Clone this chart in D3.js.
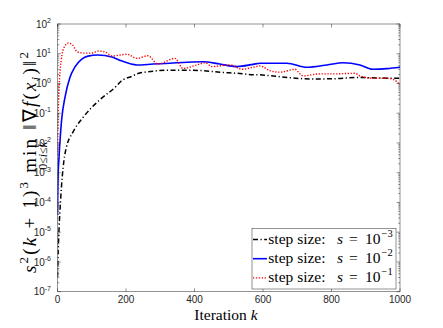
<!DOCTYPE html>
<html>
<head>
<meta charset="utf-8">
<script src="https://cdn.jsdelivr.net/npm/d3@7"></script>
<style>
html,body{margin:0;padding:0;background:#fff;}
svg{display:block;}
</style>
</head>
<body>
<svg id="chart" width="443" height="328"></svg>
<script>
// ---------- data ----------
const xTicks = [0, 200, 400, 600, 800, 1000];
const yTickExps = [-7, -6, -5, -4, -3, -2, -1, 0, 1, 2];

const seriesNames = ["-3", "-2", "-1"];

// s = 1e-3 (black dash-dot)
const blackK = [0, 2, 4.4, 9, 19, 26, 44, 73, 123, 172, 184, 219, 232, 280, 330, 378, 425, 474, 524, 571, 591, 670, 737, 804, 883, 933, 1000];
const blackV = [3.1e-7, 2.5e-6, 1.2e-5, 1.2e-4, 2.7e-3, 7.2e-3, 0.022, 0.069, 0.28, 0.82, 1.15, 1.78, 2.1, 2.6, 2.8, 2.8, 2.7, 2.4, 2.2, 1.98, 1.95, 1.6, 1.42, 1.44, 1.6, 1.53, 1.5];

// s = 1e-2 (blue solid)
const blueK = [0, 1, 2, 4, 12, 22, 36, 51, 71, 89, 118, 159, 184, 232, 279, 328, 378, 425, 474, 524, 571, 591, 670, 728, 787, 834, 883, 921, 962, 1000];
const blueV = [3.8e-5, 3e-4, 1e-3, 2.7e-3, 0.059, 0.35, 1.55, 3.6, 6.6, 8.3, 9.1, 7.8, 5.9, 4.2, 4.5, 4.8, 5.2, 5.4, 4.5, 3.7, 4.4, 4.8, 4.8, 3.5, 4.2, 5.0, 4.2, 3.0, 3.15, 3.5];

// s = 1e-1 (red dotted)
const redK = [0, 1, 2, 4, 6, 11, 20, 32, 44, 58, 79, 99, 118, 138, 161, 184, 203, 232, 264, 293, 343, 366, 407, 431, 451, 504, 539, 571, 591, 620, 650, 694, 702, 717, 766, 804, 869, 883, 921, 962, 980, 991, 1000];
const redV = [4e-3, 0.03, 0.107, 0.5, 1.5, 6.2, 17, 23, 19.6, 11.5, 10.5, 10.5, 12.3, 11.5, 8.4, 9.1, 9.6, 7.0, 8.6, 4.5, 7.0, 3.2, 4.2, 5.0, 3.7, 4.2, 3.0, 3.5, 3.9, 2.7, 2.4, 3.0, 2.5, 1.8, 2.1, 2.1, 2.2, 1.8, 1.5, 1.5, 1.38, 1.15, 0.9];

// ---------- layout ----------
const svg = d3.select("#chart");
const L = 57.5, R = 400, T = 24, B = 291.7;
const axisColor = "#262626";
const x = d3.scaleLinear().domain([0, 1000]).range([L, R]);
const y = d3.scaleLog().domain([1e-7, 1e2]).range([B, T]);

svg.append("rect").attr("x", L).attr("y", T).attr("width", R - L).attr("height", B - T).attr("fill", "#fff");

// ---------- series ----------
const series = [
  {k: blackK, v: blackV, color: "#000000", dash: "5,2.5,1.2,2.5", width: 1.5},
  {k: blueK,  v: blueV,  color: "#0000ff", dash: null, width: 1.6},
  {k: redK,   v: redV,   color: "#ff0000", dash: "1.3,1.6", width: 1.4}
];
const line = d3.line().x(d => x(d[0])).y(d => y(d[1])).curve(d3.curveMonotoneX);
svg.append("clipPath").attr("id", "clip").append("rect")
  .attr("x", L).attr("y", T).attr("width", R - L).attr("height", B - T);
const gLines = svg.append("g").attr("clip-path", "url(#clip)");
series.forEach(s => {
  const pts = s.k.map((kk, i) => [kk, s.v[i]]);
  const p = gLines.append("path").attr("d", line(pts))
    .attr("fill", "none").attr("stroke", s.color).attr("stroke-width", s.width);
  if (s.dash) p.attr("stroke-dasharray", s.dash);
});

// ---------- axes ----------
const gAx = svg.append("g");
gAx.append("rect").attr("x", L).attr("y", T).attr("width", R - L).attr("height", B - T)
  .attr("fill", "none").attr("stroke", axisColor).attr("stroke-width", 0.5);

const majorLen = 3.4, minorLen = 1.8;
const sans = "Liberation Sans, Arial, sans-serif";
xTicks.forEach(t => {
  const xx = x(t);
  gAx.append("line").attr("x1", xx).attr("x2", xx).attr("y1", B).attr("y2", B - majorLen)
    .attr("stroke", axisColor).attr("stroke-width", 0.5);
  gAx.append("line").attr("x1", xx).attr("x2", xx).attr("y1", T).attr("y2", T + majorLen)
    .attr("stroke", axisColor).attr("stroke-width", 0.5);
  gAx.append("text").attr("x", xx).attr("y", B + 11.6).attr("text-anchor", "middle")
    .attr("font-family", sans).attr("font-size", 10)
    .attr("fill", axisColor).text(t);
});
yTickExps.forEach(e => {
  const yy = y(Math.pow(10, e));
  [[L, 1], [R, -1]].forEach(([xx, dir]) => {
    gAx.append("line").attr("x1", xx).attr("x2", xx + dir * majorLen).attr("y1", yy).attr("y2", yy)
      .attr("stroke", axisColor).attr("stroke-width", 0.5);
  });
  if (e < 2) {
    for (let m = 2; m <= 9; m++) {
      const ym = y(m * Math.pow(10, e));
      [[L, 1], [R, -1]].forEach(([xx, dir]) => {
        gAx.append("line").attr("x1", xx).attr("x2", xx + dir * minorLen).attr("y1", ym).attr("y2", ym)
          .attr("stroke", axisColor).attr("stroke-width", 0.5);
      });
    }
  }
  const tx = gAx.append("text").attr("x", 51).attr("y", yy + 3.6).attr("text-anchor", "end")
    .attr("font-family", sans).attr("font-size", 10)
    .attr("fill", axisColor);
  tx.append("tspan").text("10");
  tx.append("tspan").attr("dy", -4.5).attr("font-size", 7).text(String(e));
});

// ---------- x label ----------
const serif = "Liberation Serif, Times New Roman, serif";
const xl = svg.append("text").attr("x", 226).attr("y", 319.5).attr("text-anchor", "middle")
  .attr("font-family", serif).attr("font-size", 15.5).attr("fill", "#000");
xl.append("tspan").text("Iteration ");
xl.append("tspan").attr("font-style", "italic").text("k");

// ---------- y label (rotated math) ----------
const labelSpan = 221;
const gy = svg.append("g").attr("transform", "translate(36,162.5) rotate(-90)");
const fs = 19, fsS = 13;
const yl = gy.append("text").attr("x", -labelSpan / 2).attr("y", 0)
  .attr("font-family", serif).attr("font-size", fs).attr("fill", "#000")
  .attr("xml:space", "preserve").style("white-space", "pre");
const parts = [
  {t: "s", it: true},
  {t: "2", size: fsS, dy: -8},
  {t: "(", dy: 8},
  {t: "k", it: true},
  {t: " + 1)"},
  {t: "3", size: fsS, dy: -8},
  {t: " min ", dy: 8},
  {t: "\u2016\u2207"},
  {t: "f", it: true},
  {t: "("},
  {t: "x", it: true},
  {t: "i", it: true, size: fsS, dy: 4},
  {t: ")\u2016", dy: -4},
  {t: "2", size: fsS, dy: -8}
];
let minIndex = 0, counting = true;
parts.forEach(p => {
  const ts = yl.append("tspan").text(p.t);
  if (p.it) ts.attr("font-style", "italic");
  if (p.size) ts.attr("font-size", p.size);
  if (p.dy) ts.attr("dy", p.dy);
  if (p.t === " min ") { minIndex += 1; counting = false; }
  if (counting) minIndex += p.t.length;
});
const node = yl.node();
if (node.getComputedTextLength() < labelSpan) {
  yl.attr("textLength", labelSpan).attr("lengthAdjust", "spacing");
}
// subscript centred under "min"
const mStart = node.getStartPositionOfChar(minIndex).x;
const nEnd = node.getEndPositionOfChar(minIndex + 2).x;
const subT = gy.append("text").attr("x", (mStart + nEnd) / 2).attr("y", 11).attr("text-anchor", "middle")
  .attr("font-family", serif).attr("font-size", 12).attr("fill", "#000");
subT.append("tspan").text("0\u2264");
subT.append("tspan").attr("font-style", "italic").text("i");
subT.append("tspan").text("\u2264");
subT.append("tspan").attr("font-style", "italic").text("k");

// ---------- legend ----------
const lgX = 252, lgY = 228.5, lgW = 144, lgH = 60.5;
const gl = svg.append("g");
gl.append("rect").attr("x", lgX).attr("y", lgY).attr("width", lgW).attr("height", lgH)
  .attr("fill", "#fff").attr("stroke", axisColor).attr("stroke-width", 0.5);
series.forEach((s, i) => {
  const ry = 239.5 + i * 19.2;
  const ln = gl.append("line").attr("x1", lgX + 1).attr("x2", lgX + 15).attr("y1", ry).attr("y2", ry)
    .attr("stroke", s.color).attr("stroke-width", s.width);
  if (s.dash) ln.attr("stroke-dasharray", s.dash);
  const by = ry + 4.2;
  gl.append("text").attr("x", 268.3).attr("y", by).attr("font-family", serif).attr("font-size", 15.5)
    .text("step size:");
  gl.append("text").attr("x", 337).attr("y", by).attr("font-family", serif).attr("font-size", 15.5)
    .attr("font-style", "italic").text("s");
  gl.append("text").attr("x", 349).attr("y", by).attr("font-family", serif).attr("font-size", 15.5)
    .text("=");
  gl.append("text").attr("x", 365).attr("y", by).attr("font-family", serif).attr("font-size", 15.5)
    .text("10");
  gl.append("text").attr("x", 381.5).attr("y", by - 7).attr("font-family", serif).attr("font-size", 10.5)
    .text(seriesNames[i].replace("-", "\u2212"));
});
</script>
</body>
</html>
